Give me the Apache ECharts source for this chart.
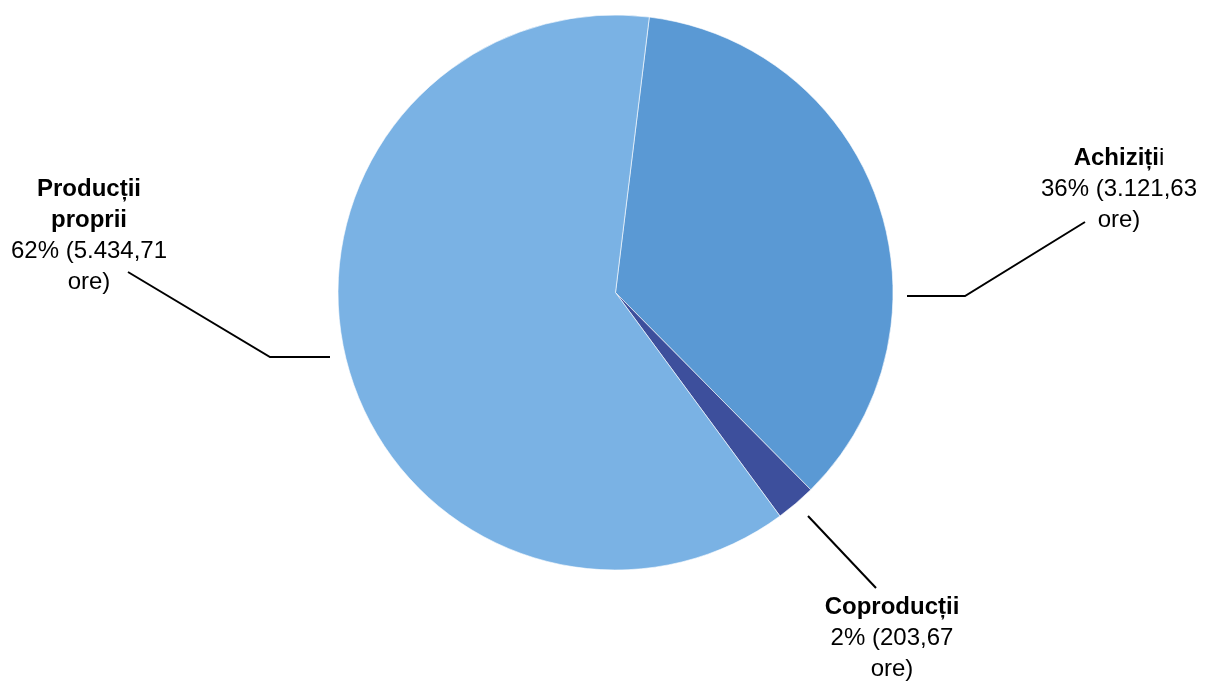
<!DOCTYPE html>
<html>
<head>
<meta charset="utf-8">
<script src="https://cdn.jsdelivr.net/npm/echarts@6/dist/echarts.min.js"></script>
<style>
  html, body { margin: 0; padding: 0; background: #ffffff; }
  #chart { width: 1205px; height: 684px; }
</style>
</head>
<body>
<div id="chart"></div>
<script>
// Broadcast hours by source
const categories = ['Achiziții', 'Coproducții', 'Producții proprii'];
const hours = [3121.63, 203.67, 5434.71];
const colors = ['#5A99D4', '#3D4F9C', '#7AB2E4'];

// label anchor (text block centre) and leader line for each slice
const labelSpots = [
  { x: 1119, y: 189, line: [[907, 296], [965, 296], [1085, 222]] },
  { x: 892, y: 638, line: [[808, 516], [842, 552], [876, 588]] },
  { x: 89, y: 236, line: [[330, 357], [270, 357], [128, 272]] }
];

// Romanian number format: 3121.63 -> 3.121,63
function roNumber(v) {
  const parts = v.toFixed(2).split('.');
  const intPart = parts[0].replace(/\B(?=(\d{3})+(?!\d))/g, '.');
  return intPart + ',' + parts[1];
}

function titleRich(name) {
  if (name === 'Achiziții') {
    return '{b|Achiziți}{r|i}';
  }
  return name.split(' ').map(w => '{b|' + w + '}').join('\n');
}

const total = hours.reduce((a, b) => a + b, 0);
const data = categories.map((c, i) => ({
  name: c,
  value: hours[i],
  itemStyle: { color: colors[i] }
}));

const FONT = "'Liberation Sans', Arial, sans-serif";

const chart = echarts.init(document.getElementById('chart'), null, { renderer: 'canvas' });
chart.setOption({
  animation: false,
  backgroundColor: '#ffffff',
  series: [{
    type: 'pie',
    center: [615.5, 292.5],
    radius: 277.5,
    startAngle: 83,
    clockwise: true,
    data: data,
    itemStyle: { borderColor: '#ffffff', borderWidth: 0.6 },
    emphasis: { disabled: true },
    label: {
      show: true,
      position: 'outside',
      formatter: function (p) {
        const pct = Math.round(p.value / total * 100);
        return titleRich(p.name) + '\n{r|' + pct + '% (' + roNumber(p.value) + '}\n{r|ore)}';
      },
      align: 'center',
      verticalAlign: 'middle',
      rich: {
        b: { fontFamily: FONT, fontSize: 24, fontWeight: 'bold', color: '#000000', lineHeight: 31 },
        r: { fontFamily: FONT, fontSize: 24, color: '#000000', lineHeight: 31 }
      }
    },
    labelLine: {
      show: true,
      lineStyle: { color: '#000000', width: 2 }
    },
    labelLayout: function (params) {
      const s = labelSpots[params.dataIndex];
      return {
        x: s.x,
        y: s.y,
        align: 'center',
        verticalAlign: 'middle',
        labelLinePoints: s.line
      };
    }
  }]
});
</script>
</body>
</html>
